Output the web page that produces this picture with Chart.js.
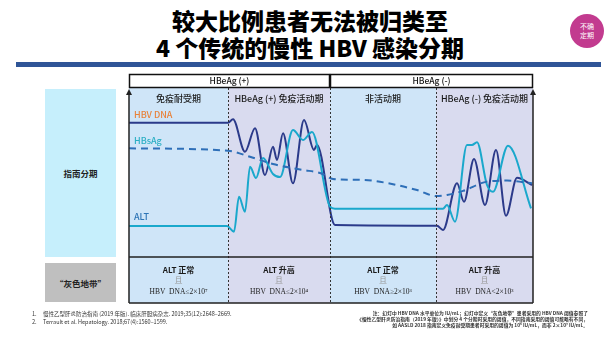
<!DOCTYPE html>
<html lang="zh">
<head>
<meta charset="UTF-8">
<title>慢性 HBV 感染分期</title>
<script src="https://cdn.jsdelivr.net/npm/chart.js"></script>
<style>
    body {
        margin: 0;
        padding: 0;
        background: #fff;
        font-family: "Noto Sans CJK SC", "Noto Sans", sans-serif;
    }
    .slide {
        position: relative;
        width: 615px;
        height: 346px;
        overflow: hidden;
    }
    .title {
        position: absolute;
        left: 0;
        top: 7px;
        width: 620px;
        text-align: center;
        font-size: 23px;
        font-weight: 900;
        line-height: 27px;
        color: #000;
    }
    .bar {
        position: absolute;
        left: 16px;
        top: 62px;
        width: 585px;
        height: 5px;
        background: #2f5597;
    }
    .badge {
        position: absolute;
        left: 570px;
        top: 14px;
        width: 34px;
        height: 34px;
        border-radius: 50%;
        background: #c23b8f;
        color: #fff;
        font-size: 7px;
        line-height: 9px;
        text-align: center;
        display: flex;
        align-items: center;
        justify-content: center;
    }
    .side {
        position: absolute;
        left: 45px;
        width: 71px;
        display: flex;
        align-items: center;
        justify-content: center;
        font-size: 8.5px;
        font-weight: bold;
        color: #222;
    }
    .refs {
        position: absolute;
        left: 32px;
        top: 310px;
        font-size: 5.5px;
        line-height: 8px;
        color: #333;
    }
    .refs span { display: inline-block; width: 11px; }
    .note {
        position: absolute;
        right: 27px;
        top: 310px;
        font-size: 4.8px;
        line-height: 6px;
        font-weight: bold;
        color: #333;
        text-align: right;
        white-space: nowrap;
    }
    canvas {
        position: absolute;
        left: 0;
        top: 0;
    }
</style>
</head>
<body>
<div class="slide">
    <div class="title">较大比例患者无法被归类至<br>4 个传统的慢性 HBV 感染分期</div>
    <div class="bar"></div>
    <div class="badge">不确<br>定期</div>
    <div class="side" style="top:89px;height:168px;background:#c6effc;">指南分期</div>
    <div class="side" style="top:263px;height:39px;background:#bfbfbf;">“灰色地带”</div>
    <canvas id="phaseChart" width="615" height="346"></canvas>
    <div class="refs">
        <div><span>1.</span>慢性乙型肝炎防治指南 (2019 年版). 临床肝胆病杂志. 2019;35(12):2648–2669.</div>
        <div><span>2.</span>Terrault et al. Hepatology. 2018;67(4):1560–1599.</div>
    </div>
    <div class="note">
        注：幻灯中 HBV DNA 水平单位为 IU/mL；幻灯中定义“灰色地带”患者采用的 HBV DNA 阈值参照了<br>
        《慢性乙型肝炎防治指南（2019 年版）》中划分 4 个分期时采用的阈值，不同指南采用的阈值可能略有不同，<br>
        如 AASLD 2018 指南定义免疫耐受期患者时采用的阈值为 10⁶ IU/mL，而非 2×10⁷ IU/mL。
    </div>
</div>

<script>
    // phases along the time axis
    const phases = ['免疫耐受期', 'HBeAg (+) 免疫活动期', '非活动期', 'HBeAg (-) 免疫活动期'];
    const phaseEdges = [0, 99, 201, 307, 404];
    const hbeagGroups = ['HBeAg (+)', 'HBeAg (-)'];
    const hbeagEdges = [0, 201, 404];
    const altStatus = ['ALT 正常', 'ALT 升高', 'ALT 正常', 'ALT 升高'];
    const dnaLevel = ['HBV  DNA≤2×10⁷', 'HBV  DNA≤2×10⁴', 'HBV  DNA≥2×10³', 'HBV  DNA<2×10³'];

    // relative levels (0-100) over time
    const hbvDna = [
        [0, 79.5], [99, 79.5], [104, 81.5], [116, 62.3], [126, 76.2], [136, 48.5],
        [144, 65.3], [148, 57.4], [154, 73.2], [164, 43.6], [175, 81.1], [185, 63.3],
        [188, 66.3], [206, 18.9], [308, 18.5], [314, 16.0], [328, 43.6], [335, 32.7],
        [345, 58.0], [356, 30.8], [367, 63.3], [377, 24.4], [388, 46.9], [403, 42.6]
    ];
    const alt = [
        [0, 18.3], [98, 18.3], [105, 15.0], [110, 35.7], [116, 26.8], [121, 53.4],
        [127, 46.7], [134, 58.6], [144, 49.1], [151, 47.3], [164, 75.1], [174, 69.2],
        [183, 74.0], [201, 29.8], [206, 28.6], [314, 28.6], [318, 30.8], [326, 20.9],
        [338, 66.3], [343, 66.3], [348, 67.9], [358, 42.6], [364, 38.6], [379, 65.9],
        [402, 28.8]
    ];
    const hbsag = [
        [0, 64.3], [99, 62.9], [121, 59.3], [144, 55.0], [174, 51.5], [191, 49.7],
        [204, 46.2], [234, 45.6], [258, 43.8], [288, 39.6], [307, 36.1], [318, 36.7],
        [334, 39.1], [358, 44.6], [378, 45.2], [403, 43.6]
    ];

    const toXY = arr => arr.map(p => ({ x: p[0], y: p[1] }));

    const colBg = ['#cfe5f8', '#d9dbef', '#cfe5f8', '#d9dbef'];
    const FONT = '"Noto Sans CJK SC", "Noto Sans", sans-serif';

    function arrowUp(ctx, x, y) {
        ctx.beginPath();
        ctx.moveTo(x, y);
        ctx.lineTo(x - 3, y + 6);
        ctx.lineTo(x + 3, y + 6);
        ctx.closePath();
        ctx.fill();
    }

    // columns, header boxes, axes and the bottom table row
    const phaseFrame = {
        id: 'phaseFrame',
        beforeDatasetsDraw(chart) {
            const ctx = chart.ctx;
            const area = chart.chartArea;
            const xs = chart.scales.x;
            const rowBottom = area.bottom + 46;
            ctx.save();
            for (let i = 0; i < phases.length; i++) {
                const x0 = xs.getPixelForValue(phaseEdges[i]);
                const x1 = xs.getPixelForValue(phaseEdges[i + 1]);
                ctx.fillStyle = colBg[i];
                ctx.fillRect(x0, area.top, x1 - x0, rowBottom - area.top);
            }
            // series labels
            ctx.font = '500 9px ' + FONT;
            ctx.textAlign = 'left';
            ctx.textBaseline = 'middle';
            ctx.fillStyle = '#e8823a';
            ctx.fillText('HBV DNA', area.left + 5, 115);
            ctx.fillStyle = '#2aaec4';
            ctx.fillText('HBsAg', area.left + 5, 141);
            ctx.fillStyle = '#2e75b6';
            ctx.fillText('ALT', area.left + 5, 217);
            ctx.restore();
        },
        afterDraw(chart) {
            const ctx = chart.ctx;
            const area = chart.chartArea;
            const xs = chart.scales.x;
            const rowBottom = area.bottom + 46;
            ctx.save();

            // dotted phase dividers
            ctx.lineWidth = 1;
            ctx.setLineDash([2, 2]);
            ctx.strokeStyle = '#333';
            for (let i = 1; i < phases.length; i++) {
                const x = Math.round(xs.getPixelForValue(phaseEdges[i])) + 0.5;
                ctx.beginPath();
                ctx.moveTo(x, area.top);
                ctx.lineTo(x, rowBottom);
                ctx.stroke();
            }
            ctx.setLineDash([]);

            // HBeAg header boxes
            ctx.font = '500 8.5px ' + FONT;
            ctx.textAlign = 'center';
            ctx.textBaseline = 'middle';
            for (let i = 0; i < hbeagGroups.length; i++) {
                const x0 = xs.getPixelForValue(hbeagEdges[i]);
                const x1 = xs.getPixelForValue(hbeagEdges[i + 1]);
                ctx.fillStyle = '#fff';
                ctx.fillRect(x0, area.top - 14, x1 - x0, 14);
                ctx.strokeStyle = '#111';
                ctx.lineWidth = 1.5;
                ctx.strokeRect(x0 + 0.5, area.top - 13.5, x1 - x0 - 1, 13);
                ctx.fillStyle = '#111';
                ctx.fillText(hbeagGroups[i], (x0 + x1) / 2, area.top - 7);
            }

            // phase names and bottom row text
            for (let i = 0; i < phases.length; i++) {
                const cx = (xs.getPixelForValue(phaseEdges[i]) + xs.getPixelForValue(phaseEdges[i + 1])) / 2;
                ctx.fillStyle = '#1a1a1a';
                ctx.font = '500 9px ' + FONT;
                ctx.fillText(phases[i], cx, area.top + 11);
                ctx.font = 'bold 8px ' + FONT;
                ctx.fillText(altStatus[i], cx, area.bottom + 13);
                ctx.fillStyle = '#999';
                ctx.font = '8px ' + FONT;
                ctx.fillText('且', cx, area.bottom + 23);
                ctx.fillStyle = '#222';
                ctx.font = '7.5px "Liberation Serif", "DejaVu Serif", serif';
                ctx.fillText(dnaLevel[i], cx, area.bottom + 35);
            }

            // axes and table borders
            ctx.strokeStyle = '#222';
            ctx.fillStyle = '#222';
            ctx.lineWidth = 1.5;
            ctx.beginPath();
            ctx.moveTo(area.left, area.top + 4);
            ctx.lineTo(area.left, rowBottom);
            ctx.moveTo(area.right, area.top + 4);
            ctx.lineTo(area.right, rowBottom);
            ctx.moveTo(area.left, area.bottom);
            ctx.lineTo(area.right, area.bottom);
            ctx.moveTo(area.left, rowBottom);
            ctx.lineTo(area.right, rowBottom);
            ctx.stroke();
            arrowUp(ctx, area.left, area.top + 1);
            arrowUp(ctx, area.right, area.top + 1);
            ctx.restore();
        }
    };

    new Chart(document.getElementById('phaseChart'), {
        type: 'line',
        data: {
            datasets: [
                {
                    label: 'HBsAg',
                    data: toXY(hbsag),
                    borderColor: '#2e6fb8',
                    borderWidth: 2,
                    borderDash: [7, 5]
                },
                {
                    label: 'ALT',
                    data: toXY(alt),
                    borderColor: '#1aa8cc',
                    borderWidth: 2
                },
                {
                    label: 'HBV DNA',
                    data: toXY(hbvDna),
                    borderColor: '#2b3a8a',
                    borderWidth: 2
                }
            ]
        },
        options: {
            responsive: false,
            animation: false,
            layout: { padding: { left: 129, right: 82, top: 88, bottom: 89 } },
            elements: {
                point: { radius: 0 },
                line: { cubicInterpolationMode: 'monotone', fill: false }
            },
            scales: {
                x: { type: 'linear', min: 0, max: 404, display: false },
                y: { min: 0, max: 100, display: false }
            },
            plugins: {
                legend: { display: false },
                tooltip: { enabled: false }
            }
        },
        plugins: [phaseFrame]
    });
</script>
</body>
</html>
